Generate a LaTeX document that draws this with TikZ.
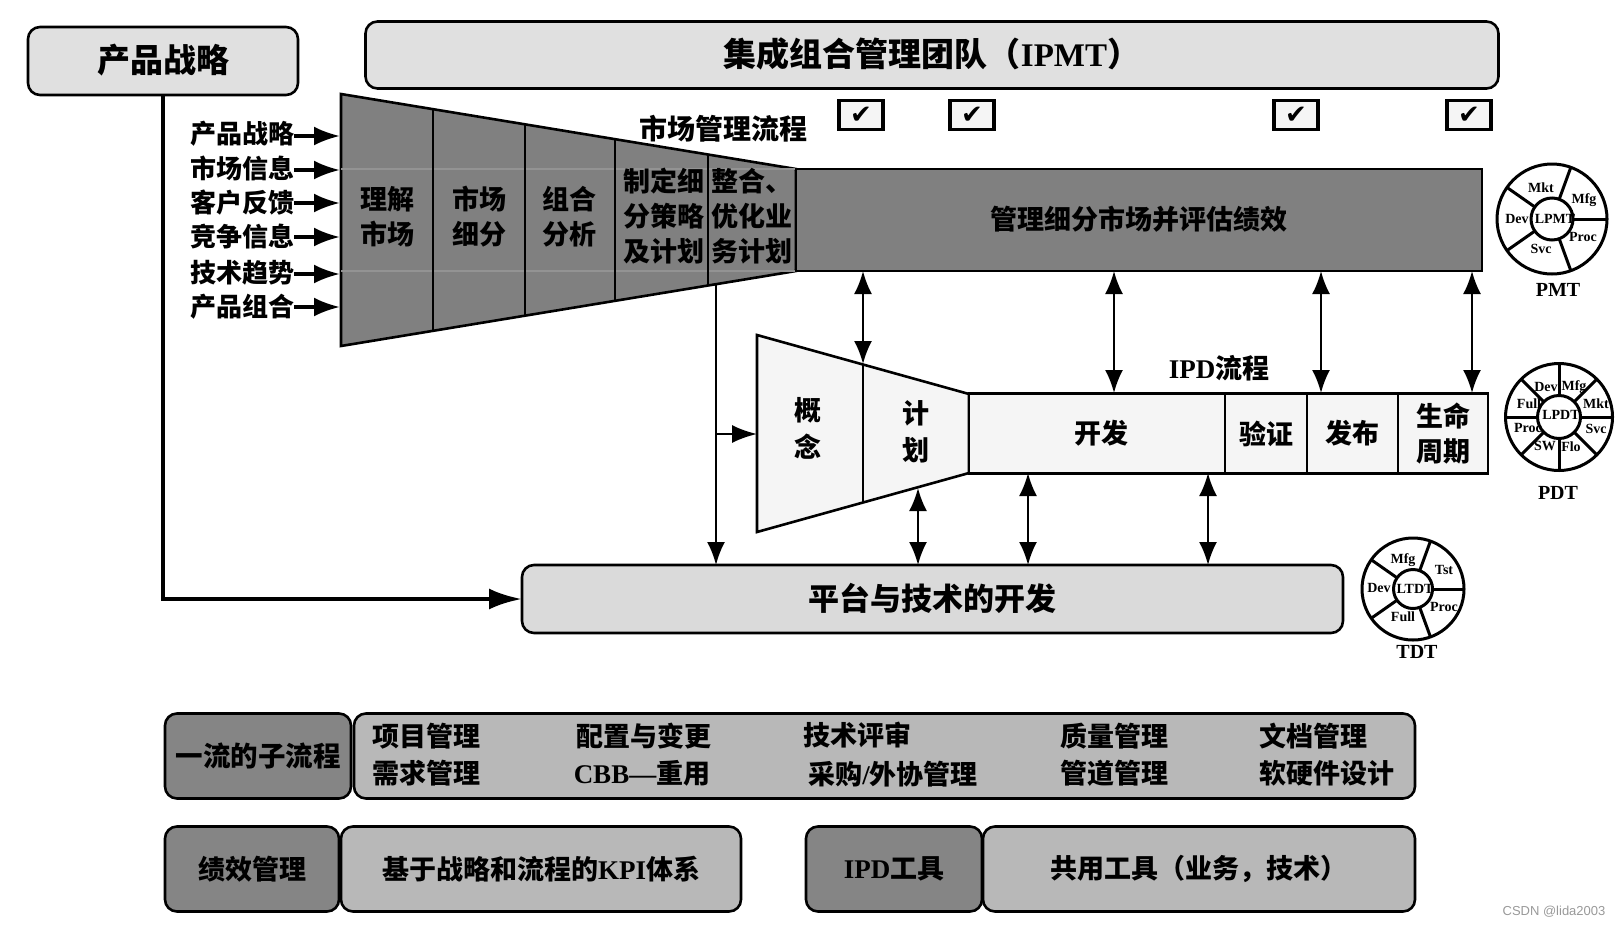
\documentclass[tikz,border=0pt]{standalone}
\usepackage{fontspec}
\setmainfont{Noto Sans CJK SC}
\newfontfamily\lat{Liberation Serif}
\newfontfamily\wmfont{Liberation Sans}
\newfontfamily\sym{DejaVu Sans}
\usetikzlibrary{arrows.meta,shapes.geometric,positioning}
\definecolor{funnelgray}{HTML}{808080}
\definecolor{lightgray}{HTML}{E0E0E0}
\definecolor{platgray}{HTML}{DADADA}
\definecolor{palegray}{HTML}{F5F5F5}
\definecolor{midgray}{HTML}{B8B8B8}
\definecolor{dimgray}{HTML}{858585}

\begin{document}
\begin{tikzpicture}[x=1pt, y=-1pt, >={Latex[length=23pt,width=18pt]}]

    \tikzset{% styles of the boxes, labels and connectors
        panel/.style={draw=black,line width=2.6pt,rounded corners=12pt,fill=#1,inner sep=0pt,outer sep=0pt,align=center},
        txt/.style={inner sep=0pt,outer sep=0pt,align=center,font=\fontsize{#1}{#1}\selectfont\bfseries},
        lines/.style={inner sep=0pt,outer sep=0pt,align=center,font=\fontsize{27}{35}\selectfont\bfseries},
        stage/.style={draw=black,line width=2.6pt,fill=palegray,inner sep=0pt,outer sep=0pt,align=center,
                      font=\fontsize{27}{35}\selectfont\bfseries},
        funnel/.style={draw=black,line width=2.6pt,fill=funnelgray},
        ipdshape/.style={draw=black,line width=2.6pt,fill=palegray},
        divider/.style={draw=black,line width=2.8pt},
        seam/.style={draw=gray!85,line width=1.4pt},
        tick/.style={draw=black,line width=3.4pt,fill=palegray,minimum width=44pt,minimum height=29pt,
                     inner sep=0pt,outer sep=0pt,font=\sym\fontsize{26}{26}\selectfont},
        rim/.style={circle,draw=black,line width=3pt,fill=white,inner sep=0pt,outer sep=0pt,minimum size=#1},
        hub/.style={circle,draw=black,line width=3pt,inner sep=0pt,outer sep=0pt,minimum size=#1},
        spoke/.style={draw=black,line width=3pt},
        wtxt/.style={inner sep=0pt,outer sep=0pt,font=\lat\bfseries\fontsize{14}{14}\selectfont},
        wname/.style={inner sep=0pt,outer sep=0pt,font=\lat\bfseries\fontsize{20}{20}\selectfont},
        link/.style={draw=black,line width=2.2pt},
        feed/.style={draw=black,line width=3.4pt,-{Latex[length=26pt,width=19pt]}},
        trunk/.style={draw=black,line width=4.6pt,-{Latex[length=33pt,width=21pt]}}
    }

    \useasboundingbox (0,0) rectangle (1621,927);

    % top row
    \node [panel=lightgray,minimum width=270pt,minimum height=68pt,txt=33](box_strategy) at (163,61) {\raisebox{6pt}{产品战略}};
    \node [panel=lightgray,minimum width=1133pt,minimum height=67pt,txt=33](box_ipmt) at (932,55) {\raisebox{5pt}{集成组合管理团队（{\lat IPMT}）}};

    % market funnel
    \coordinate (f_tl) at (341,94);
    \coordinate (f_bl) at (341,346);
    \coordinate (f_tr) at (796,169);
    \coordinate (f_br) at (796,271);
    \coordinate (f_t1) at (433,109);
    \coordinate (f_b1) at (433,331);
    \coordinate (f_t2) at (525,124);
    \coordinate (f_b2) at (525,316);
    \coordinate (f_t3) at (615,139);
    \coordinate (f_b3) at (615,301);
    \coordinate (f_t4) at (708,155);
    \coordinate (f_b4) at (708,285);
    \coordinate (f_m1) at (341,169);
    \coordinate (f_m2) at (341,271);

    \draw [funnel] (f_tl) -- (f_tr) -- (f_br) -- (f_bl) -- cycle;
    \draw [seam] (f_m1) -- (f_tr);
    \draw [seam] (f_m2) -- (f_br);
    \draw [divider] (f_t1) -- (f_b1);
    \draw [divider] (f_t2) -- (f_b2);
    \draw [divider] (f_t3) -- (f_b3);
    \draw [divider] (f_t4) -- (f_b4);
    \draw [divider] (f_tr) -- (f_br);

    \node [draw=black,line width=2.6pt,fill=funnelgray,minimum width=686pt,minimum height=102pt,outer sep=0pt,txt=27](box_market) at (1139,220) {\raisebox{5pt}{管理细分市场并评估绩效}};

    \node [lines](t_1) at (387,217) {理解\\市场};
    \node [lines](t_2) at (479,217) {市场\\细分};
    \node [lines](t_3) at (569,217) {组合\\分析};
    \node [lines](t_4) at (664,216) {制定细\\分策略\\及计划};
    \node [lines](t_5) at (752,216) {整合、\\优化业\\务计划};
    \node [txt=28](t_market) at (723,129) {市场管理流程};

    % inputs of the funnel
    \node [txt=26](in_1) at (242,134) {产品战略};
    \node [txt=26](in_2) at (242,168) {市场信息};
    \node [txt=26](in_3) at (242,203) {客户反馈};
    \node [txt=26](in_4) at (242,237) {竞争信息};
    \node [txt=26](in_5) at (242,273) {技术趋势};
    \node [txt=26](in_6) at (242,307) {产品组合};

    \coordinate (a_1) at (340,136);
    \coordinate (a_2) at (340,170);
    \coordinate (a_3) at (340,203);
    \coordinate (a_4) at (340,237);
    \coordinate (a_5) at (340,274);
    \coordinate (a_6) at (340,307);

    \draw [feed] (in_1.east |- a_1) -- (a_1);
    \draw [feed] (in_2.east |- a_2) -- (a_2);
    \draw [feed] (in_3.east |- a_3) -- (a_3);
    \draw [feed] (in_4.east |- a_4) -- (a_4);
    \draw [feed] (in_5.east |- a_5) -- (a_5);
    \draw [feed] (in_6.east |- a_6) -- (a_6);

    % check boxes
    \node [tick](chk_1) at (861,115) {✔};
    \node [tick](chk_2) at (972,115) {✔};
    \node [tick](chk_3) at (1296,115) {✔};
    \node [tick](chk_4) at (1469,115) {✔};

    % IPD funnel and stages
    \coordinate (p_tl) at (757,335);
    \coordinate (p_bl) at (757,532);
    \coordinate (p_t1) at (863,364);
    \coordinate (p_b1) at (863,502);
    \coordinate (p_tr) at (969,394);
    \coordinate (p_br) at (969,473);

    \draw [ipdshape] (p_tl) -- (p_tr) -- (p_br) -- (p_bl) -- cycle;
    \draw [divider] (p_t1) -- (p_b1);

    \node [lines,font=\fontsize{27}{37}\selectfont\bfseries](t_idea) at (808,428) {概\\念};
    \node [lines,font=\fontsize{27}{37}\selectfont\bfseries](t_plan) at (916,432) {计\\划};

    \node [stage,minimum width=256pt,minimum height=80pt](st_dev) at (1097,433.5) {\hspace*{9pt}开发};
    \node [stage,minimum width=82pt,minimum height=80pt](st_check) at (1266,433.5) {验证};
    \node [stage,minimum width=91pt,minimum height=80pt](st_pub) at (1352.5,433.5) {发布};
    \node [stage,minimum width=90pt,minimum height=80pt](st_life) at (1443,433.5) {生命\\周期};
    \node [txt=27](t_ipd) at (1219,368) {{\lat IPD}流程};

    % platform
    \node [panel=platgray,minimum width=821pt,minimum height=68pt,txt=31](box_plat) at (932.5,599) {\raisebox{5pt}{平台与技术的开发}};

    % links market - IPD
    \coordinate (m_1) at (863,271);
    \coordinate (m_2) at (1114,271);
    \coordinate (m_3) at (1321,271);
    \coordinate (m_4) at (1472,271);
    \coordinate (n_2) at (1114,393);
    \coordinate (n_3) at (1321,393);
    \coordinate (n_4) at (1472,393);

    \draw [link,<->] (m_1) -- (p_t1);
    \draw [link,<->] (m_2) -- (n_2);
    \draw [link,<->] (m_3) -- (n_3);
    \draw [link,<->] (m_4) -- (n_4);

    % links IPD - platform
    \coordinate (u_1) at (918,488);
    \coordinate (u_2) at (1028,473);
    \coordinate (u_3) at (1208,473);
    \coordinate (v_1) at (918,565);
    \coordinate (v_2) at (1028,565);
    \coordinate (v_3) at (1208,565);

    \draw [link,<->] (u_1) -- (v_1);
    \draw [link,<->] (u_2) -- (v_2);
    \draw [link,<->] (u_3) -- (v_3);

    % market funnel to IPD and platform
    \coordinate (d_top) at (716,284);
    \coordinate (d_mid) at (716,434);
    \coordinate (d_end) at (716,565);
    \coordinate (p_in) at (757,434);

    \draw [link,->] (d_top) -- (d_end);
    \draw [link,-{Latex[length=25pt,width=18pt]}] (d_mid) -- (p_in);

    % strategy to platform
    \draw [trunk] (box_strategy.south) |- (box_plat.west);

    % PMT wheel
    \node [rim=110pt](w_pmt) at (1552,219) {};
    \node [hub=42pt](h_pmt) at (1552,219) {};
    \draw [spoke] (h_pmt.0) -- (w_pmt.0);
    \draw [spoke] (h_pmt.70) -- (w_pmt.70);
    \draw [spoke] (h_pmt.145) -- (w_pmt.145);
    \draw [spoke] (h_pmt.215) -- (w_pmt.215);
    \draw [spoke] (h_pmt.290) -- (w_pmt.290);
    \node [wtxt](l_pmt) at (1555,219) {LPMT};
    \node [wtxt](l_pmt1) at (1541,188) {Mkt};
    \node [wtxt](l_pmt2) at (1584,200) {Mfg};
    \node [wtxt](l_pmt3) at (1517,219) {Dev};
    \node [wtxt](l_pmt4) at (1583,237) {Proc};
    \node [wtxt](l_pmt5) at (1541,249) {Svc};
    \node [wname](n_pmt) at (1558,290) {PMT};

    % PDT wheel
    \node [rim=107pt](w_pdt) at (1559,417) {};
    \node [hub=43pt](h_pdt) at (1559,417) {};
    \draw [spoke] (h_pdt.0) -- (w_pdt.0);
    \draw [spoke] (h_pdt.45) -- (w_pdt.45);
    \draw [spoke] (h_pdt.90) -- (w_pdt.90);
    \draw [spoke] (h_pdt.135) -- (w_pdt.135);
    \draw [spoke] (h_pdt.180) -- (w_pdt.180);
    \draw [spoke] (h_pdt.225) -- (w_pdt.225);
    \draw [spoke] (h_pdt.270) -- (w_pdt.270);
    \draw [spoke] (h_pdt.315) -- (w_pdt.315);
    \node [wtxt](l_pdt) at (1561,415) {LPDT};
    \node [wtxt](l_pdt1) at (1546,387) {Dev};
    \node [wtxt](l_pdt2) at (1574,387) {Mfg};
    \node [wtxt](l_pdt3) at (1596,404) {Mkt};
    \node [wtxt](l_pdt4) at (1596,429) {Svc};
    \node [wtxt](l_pdt5) at (1571,447) {Flo};
    \node [wtxt](l_pdt6) at (1545,446) {SW};
    \node [wtxt](l_pdt7) at (1528,428) {Proc};
    \node [wtxt](l_pdt8) at (1529,404) {Full};
    \node [wname](n_pdt) at (1558,493) {PDT};

    % TDT wheel
    \node [rim=102pt](w_tdt) at (1413,589) {};
    \node [hub=39pt](h_tdt) at (1413,589) {};
    \draw [spoke] (h_tdt.0) -- (w_tdt.0);
    \draw [spoke] (h_tdt.70) -- (w_tdt.70);
    \draw [spoke] (h_tdt.145) -- (w_tdt.145);
    \draw [spoke] (h_tdt.215) -- (w_tdt.215);
    \draw [spoke] (h_tdt.290) -- (w_tdt.290);
    \node [wtxt](l_tdt) at (1415,589) {LTDT};
    \node [wtxt](l_tdt1) at (1403,560) {Mfg};
    \node [wtxt](l_tdt2) at (1444,570) {Tst};
    \node [wtxt](l_tdt3) at (1379,588) {Dev};
    \node [wtxt](l_tdt4) at (1444,607) {Proc};
    \node [wtxt](l_tdt5) at (1403,617) {Full};
    \node [wname](n_tdt) at (1417,652) {TDT};

    % bottom rows
    \node [panel=dimgray,minimum width=186pt,minimum height=85pt,txt=27.5](box_sub) at (258,756) {\raisebox{1.5pt}{一流的子流程}};
    \node [panel=midgray,minimum width=1061pt,minimum height=85pt](box_items) at (884.5,756) {};
    \node [panel=dimgray,minimum width=174pt,minimum height=85pt,txt=27](box_perf) at (252,869) {绩效管理};
    \node [panel=midgray,minimum width=400pt,minimum height=85pt,txt=27](box_kpi) at (541,869) {基于战略和流程的{\lat KPI}体系};
    \node [panel=dimgray,minimum width=176pt,minimum height=85pt,txt=27](box_tool) at (894,869) {{\lat IPD}工具};
    \node [panel=midgray,minimum width=432pt,minimum height=85pt,txt=27](box_share) at (1199,869) {共用工具（业务，技术）};

    \node [txt=27](i_1) at (426,736) {项目管理};
    \node [txt=27](i_2) at (426,773) {需求管理};
    \node [txt=27](i_3) at (644,736) {配置与变更};
    \node [txt=27](i_4) at (642,773) {{\lat CBB—}重用};
    \node [txt=27](i_5) at (857,735) {技术评审};
    \node [txt=27](i_6) at (893,774) {采购{\lat /}外协管理};
    \node [txt=27](i_7) at (1114,736) {质量管理};
    \node [txt=27](i_8) at (1114,773) {管道管理};
    \node [txt=27](i_9) at (1313,736) {文档管理};
    \node [txt=27](i_10) at (1327,773) {软硬件设计};

    \node [inner sep=0pt,text=gray!80,font=\wmfont\fontsize{13}{13}\selectfont](wm) at (1554,912) {CSDN @lida2003};

\end{tikzpicture}
\end{document}
